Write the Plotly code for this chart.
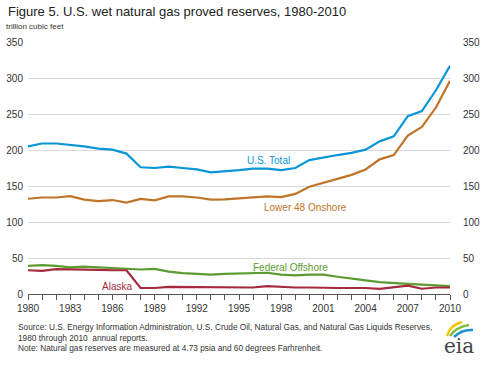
import plotly.graph_objects as go

years = list(range(1980, 2011))
us_total = [205, 209, 209, 207.5, 205, 202, 200.5, 195, 176, 175, 177, 175, 173, 169, 170, 172,
            174, 174, 172, 175, 186, 190, 193, 196, 200.5, 212, 219, 247, 254, 283, 317]
lower48 = [132.3, 134, 134, 136, 131, 129, 130.5, 127, 132, 130, 135.5, 135.5, 134, 131, 131.5, 133,
           134.6, 135.5, 134.6, 139, 149, 154.5, 160, 165.5, 173, 187, 193, 220, 232, 259, 296]
fed_offshore = [39, 40, 39, 37, 38, 37, 35.5, 34, 34, 35, 31, 29, 28, 27, 28, 28.5,
                29.5, 29.5, 27, 26, 27, 27, 24, 21, 19, 16.6, 15, 14, 13, 12, 11]
alaska = [33, 32, 34.5, 34.5, 34.5, 33.5, 33, 33, 8.3, 8.3, 10, 10, 10, 10, 10, 10,
          9, 11, 9.6, 9, 9, 8.3, 8.3, 8.3, 8.3, 7, 9, 11.5, 7.3, 9, 9]

series = [
    ("U.S. Total", us_total, "#0A96D6"),
    ("Lower 48 Onshore", lower48, "#C07429"),
    ("Federal Offshore", fed_offshore, "#5B9B2F"),
    ("Alaska", alaska, "#A52A3D"),
]
y_ticks = [0, 50, 100, 150, 200, 250, 300, 350]
x_ticks = list(range(1980, 2011, 3))

fig = go.Figure()
for name, vals, col in series:
    fig.add_trace(go.Scatter(x=years, y=vals, mode="lines", name=name,
                             line=dict(color=col, width=2.2), hoverinfo="skip"))
fig.add_trace(go.Scatter(x=[years[0]], y=[0], yaxis="y2", mode="markers",
                         marker=dict(opacity=0), showlegend=False, hoverinfo="skip"))

L, R, T, B = 28, 32, 42, 71
W, H = 482, 365
pw, ph = W - L - R, H - T - B

def px(x):
    return (x - L) / pw

def py(y):
    return (H - B - y) / ph

tickfont = dict(family="Liberation Sans, Arial", size=10, color="#333333")
fig.update_layout(
    width=W, height=H, margin=dict(l=L, r=R, t=T, b=B, autoexpand=False),
    paper_bgcolor="white", plot_bgcolor="white", showlegend=False,
    xaxis=dict(range=[1980, 2010], tickvals=x_ticks, ticks="outside", ticklen=5,
               tickcolor="#555555", showgrid=False, showline=True, linecolor="#555555",
               linewidth=1, tickfont=tickfont, zeroline=False, automargin=False,
               minor=dict(dtick=1, tick0=1980, ticks="outside", ticklen=5, tickcolor="#555555")),
    yaxis=dict(range=[0, 350], tickvals=y_ticks, showgrid=True, gridcolor="#D9D9D9",
               gridwidth=1, zeroline=False, ticks="", tickfont=tickfont, automargin=False,
               ticklabelstandoff=4),
    yaxis2=dict(range=[0, 350], tickvals=y_ticks, overlaying="y", side="right",
                showgrid=False, zeroline=False, ticks="", tickfont=tickfont, automargin=False,
                ticklabelstandoff=12),
    font=dict(family="Liberation Sans, Arial", color="#333333"),
)

ann = []
ann.append(dict(text="Figure 5. U.S. wet natural gas proved reserves, 1980-2010",
                x=px(6), y=py(11), xanchor="left", yanchor="middle",
                font=dict(size=13, color="#222222")))
ann.append(dict(text="trillion cubic feet", x=px(4), y=py(27), xanchor="left", yanchor="middle",
                font=dict(size=8, color="#333333")))
labels = [("U.S. Total", 268, 160, "#0A96D6"), ("Lower 48 Onshore", 305, 207, "#C07429"),
          ("Federal Offshore", 290, 267, "#5B9B2F"), ("Alaska", 117, 286, "#A52A3D")]
for t, x, y, c in labels:
    ann.append(dict(text=t, x=px(x), y=py(y), xanchor="center", yanchor="middle",
                    font=dict(size=10, color=c)))
src = ["Source: U.S. Energy Information Administration, U.S. Crude Oil, Natural Gas, and Natural Gas Liquids Reserves,",
       "1980 through 2010  annual reports.",
       "Note: Natural gas reserves are measured at 4.73 psia and 60 degrees Farhrenheit."]
for i, s in enumerate(src):
    ann.append(dict(text=s, x=px(16), y=py(327 + i * 10.5), xanchor="left", yanchor="middle",
                    font=dict(size=8.3, color="#333333")))
ann.append(dict(text="eia", x=px(459), y=py(346), xanchor="center", yanchor="middle",
                font=dict(family="DejaVu Serif, Liberation Serif", size=20, color="#444444")))
for a in ann:
    a.update(xref="paper", yref="paper", showarrow=False)
fig.update_layout(annotations=ann)

# logo swooshes
swoosh = [("#F2C500", (447, 336), (450, 325), (462, 322)),
          ("#7CBF3A", (450, 336), (456, 327), (469, 325)),
          ("#1C8FD0", (454, 337), (462, 329), (473, 330))]
shapes = []
for col, p0, pc, p1 in swoosh:
    path = "M {} {} Q {} {} {} {}".format(px(p0[0]), py(p0[1]), px(pc[0]), py(pc[1]), px(p1[0]), py(p1[1]))
    shapes.append(dict(type="path", path=path, xref="paper", yref="paper",
                       line=dict(color=col, width=2.5)))
fig.update_layout(shapes=shapes)

fig.write_html("out.html", config={"displayModeBar": False},
               post_script="document.body.style.margin='0';")
